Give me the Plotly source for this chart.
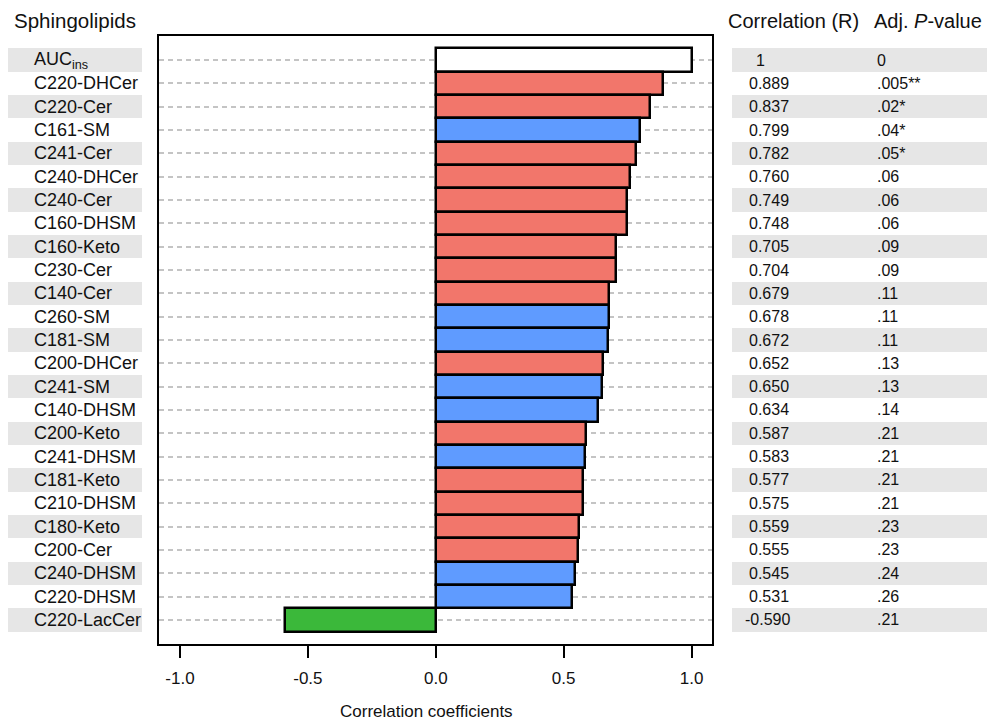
import plotly.graph_objects as go

# ---------------- data ----------------
categories = ["AUC<sub>ins</sub>", "C220-DHCer", "C220-Cer", "C161-SM", "C241-Cer",
              "C240-DHCer", "C240-Cer", "C160-DHSM", "C160-Keto", "C230-Cer",
              "C140-Cer", "C260-SM", "C181-SM", "C200-DHCer", "C241-SM",
              "C140-DHSM", "C200-Keto", "C241-DHSM", "C181-Keto", "C210-DHSM",
              "C180-Keto", "C200-Cer", "C240-DHSM", "C220-DHSM", "C220-LacCer"]
r_values = [1.0, 0.889, 0.837, 0.799, 0.782, 0.760, 0.749, 0.748, 0.705, 0.704,
            0.679, 0.678, 0.672, 0.652, 0.650, 0.634, 0.587, 0.583, 0.577, 0.575,
            0.559, 0.555, 0.545, 0.531, -0.590]
r_labels = ["1", "0.889", "0.837", "0.799", "0.782", "0.760", "0.749", "0.748",
            "0.705", "0.704", "0.679", "0.678", "0.672", "0.652", "0.650", "0.634",
            "0.587", "0.583", "0.577", "0.575", "0.559", "0.555", "0.545", "0.531",
            "-0.590"]
p_labels = ["0", ".005**", ".02*", ".04*", ".05*", ".06", ".06", ".06", ".09", ".09",
            ".11", ".11", ".11", ".13", ".13", ".14", ".21", ".21", ".21", ".21",
            ".23", ".23", ".24", ".26", ".21"]
groups = ["ref", "Cer", "Cer", "SM", "Cer", "Cer", "Cer", "Cer", "Cer", "Cer",
          "Cer", "SM", "SM", "Cer", "SM", "SM", "Cer", "SM", "Cer", "Cer",
          "Cer", "Cer", "SM", "SM", "LacCer"]
x_ticks = [-1.0, -0.5, 0.0, 0.5, 1.0]
x_ticktext = ["-1.0", "-0.5", "0.0", "0.5", "1.0"]

# ---------------- styles ----------------
group_colors = {"ref": "#FFFFFF", "Cer": "#F2766B", "SM": "#5F9BFF", "LacCer": "#3BB83A"}
FONT = "Liberation Sans, Arial, sans-serif"
BAND = "#E6E6E6"
W, H = 989, 721

n = len(categories)
rows = list(range(n))
y_range = [n - 1 + 1.03, -1.03]

def px_x(p):
    return p / W

def px_y(p):
    return 1 - p / H

fig = go.Figure()

# main bars
fig.add_trace(go.Bar(x=r_values, y=rows, orientation="h", width=1.0,
                     marker=dict(color=[group_colors[g] for g in groups],
                                 line=dict(color="#000000", width=2.5)),
                     xaxis="x", yaxis="y", showlegend=False, hoverinfo="skip"))

# shaded bands (alternate rows) in left and right tables
band_rows = [i for i in rows if i % 2 == 0]
for xa, ya in [("x2", "y2"), ("x3", "y3")]:
    fig.add_trace(go.Bar(x=[1] * len(band_rows), y=band_rows, orientation="h", width=1.0,
                         marker=dict(color=BAND, line=dict(width=0)),
                         xaxis=xa, yaxis=ya, showlegend=False, hoverinfo="skip"))

annotations = []
for i in rows:
    annotations.append(dict(x=0.18, y=i, xref="x2", yref="y2", text=categories[i],
                            showarrow=False, xanchor="left", yanchor="middle",
                            font=dict(family=FONT, size=18, color="#111")))
    rx = 0.088 if r_labels[i] == "1" else (0.045 if r_labels[i].startswith("-") else 0.059)
    annotations.append(dict(x=rx, y=i, xref="x3", yref="y3", text=r_labels[i],
                            showarrow=False, xanchor="left", yanchor="middle",
                            font=dict(family=FONT, size=16, color="#111")))
    annotations.append(dict(x=0.56, y=i, xref="x3", yref="y3", text=p_labels[i],
                            showarrow=False, xanchor="left", yanchor="middle",
                            font=dict(family=FONT, size=16, color="#111")))

# headers
annotations += [
    dict(x=px_x(12), y=px_y(21), xref="paper", yref="paper", text="Sphingolipids",
         showarrow=False, xanchor="left", yanchor="middle",
         font=dict(family=FONT, size=20.5, color="#111")),
    dict(x=px_x(726), y=px_y(21), xref="paper", yref="paper", text="Correlation (R)",
         showarrow=False, xanchor="left", yanchor="middle",
         font=dict(family=FONT, size=20, color="#111")),
    dict(x=px_x(872), y=px_y(21), xref="paper", yref="paper", text="Adj. <i>P</i>-value",
         showarrow=False, xanchor="left", yanchor="middle",
         font=dict(family=FONT, size=20, color="#111")),
    dict(x=px_x(426), y=px_y(711), xref="paper", yref="paper", text="Correlation coefficients",
         showarrow=False, xanchor="center", yanchor="middle",
         font=dict(family=FONT, size=17, color="#111")),
]

hidden = dict(showgrid=False, zeroline=False, showticklabels=False, ticks="",
              showline=False, fixedrange=True)

fig.update_layout(
    width=W, height=H,
    margin=dict(l=0, r=0, t=0, b=0),
    paper_bgcolor="white", plot_bgcolor="white",
    bargap=0, barmode="overlay",
    font=dict(family=FONT, color="#111"),
    xaxis=dict(domain=[px_x(159), px_x(712)], range=[-1.082, 1.08], anchor="y",
               tickvals=x_ticks, ticktext=x_ticktext, ticks="outside", ticklen=12,
               tickwidth=2, tickcolor="#000", showgrid=False, zeroline=False,
               showline=True, linecolor="#000", linewidth=2, mirror=True,
               tickfont=dict(family=FONT, size=17, color="#111"), ticklabelstandoff=6),
    yaxis=dict(domain=[px_y(644), px_y(36)], range=y_range, anchor="x",
               tickvals=rows, showticklabels=False, ticks="",
               showgrid=True, gridcolor="#C4C4C4", gridwidth=2, griddash="5px,4px",
               zeroline=False,
               showline=True, linecolor="#000", linewidth=2, mirror=True),
    xaxis2=dict(domain=[px_x(8), px_x(142)], range=[0, 1], anchor="y2", **hidden),
    yaxis2=dict(domain=[px_y(644), px_y(36)], range=y_range, anchor="x2", **hidden),
    xaxis3=dict(domain=[px_x(732), px_x(987)], range=[0, 1], anchor="y3", **hidden),
    yaxis3=dict(domain=[px_y(644), px_y(36)], range=y_range, anchor="x3", **hidden),
    annotations=annotations,
)

fig.write_html("out.html")
